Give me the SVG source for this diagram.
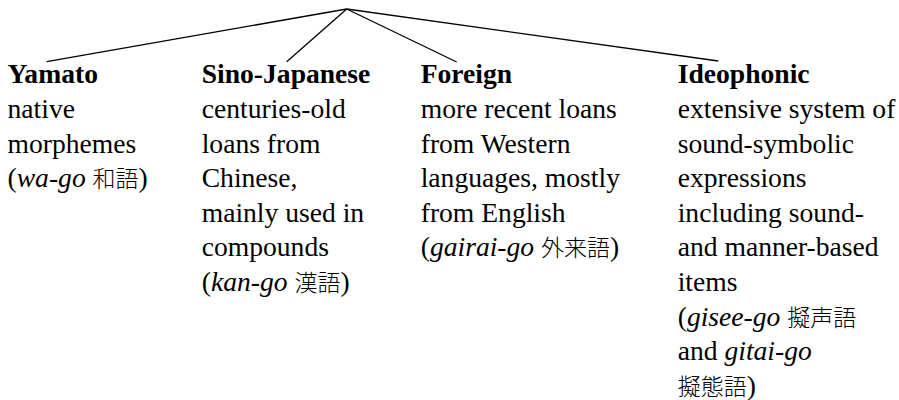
<svg xmlns="http://www.w3.org/2000/svg" width="899" height="400" viewBox="0 0 899 400">
<style>
.t{font-size:27.6px;fill:#000}
.h{font-weight:bold}
.i{font-style:italic}
.c{font-family:'Noto Sans CJK JP',sans-serif;font-size:23px;font-weight:300}
line{stroke:#000;stroke-width:1.3}
</style>
<rect width="899" height="400" fill="#fff"/>
<g id="connectors">
<line x1="346.7" y1="9" x2="46.7" y2="61.7"/>
<line x1="346.7" y1="9" x2="286.7" y2="61.7"/>
<line x1="346.7" y1="9" x2="456.7" y2="62"/>
<line x1="346.7" y1="9" x2="718.3" y2="61"/>
</g>
<g id="yamato" class="t" font-family="Liberation Serif, DejaVu Serif, serif">
<text x="7.5" y="83.3" class="h">Yamato</text>
<text x="7.5" y="117.9">native</text>
<text x="7.5" y="152.5">morphemes</text>
<text x="7.5" y="187.1">(<tspan class="i">wa-go</tspan> <tspan class="c">和語</tspan>)</text>
</g>
<g id="sino-japanese" class="t" font-family="Liberation Serif, DejaVu Serif, serif">
<text x="201.7" y="83.3" class="h">Sino-Japanese</text>
<text x="201.7" y="117.9">centuries-old</text>
<text x="201.7" y="152.5">loans from</text>
<text x="201.7" y="187.1">Chinese,</text>
<text x="201.7" y="221.7">mainly used in</text>
<text x="201.7" y="256.3">compounds</text>
<text x="201.7" y="290.9">(<tspan class="i">kan-go</tspan> <tspan class="c">漢語</tspan>)</text>
</g>
<g id="foreign" class="t" font-family="Liberation Serif, DejaVu Serif, serif">
<text x="420.7" y="83.3" class="h">Foreign</text>
<text x="420.7" y="117.9">more recent loans</text>
<text x="420.7" y="152.5">from Western</text>
<text x="420.7" y="187.1">languages, mostly</text>
<text x="420.7" y="221.7">from English</text>
<text x="420.7" y="256.3">(<tspan class="i">gairai-go</tspan> <tspan class="c">外来語</tspan>)</text>
</g>
<g id="ideophonic" class="t" font-family="Liberation Serif, DejaVu Serif, serif">
<text x="677.7" y="83.3" class="h">Ideophonic</text>
<text x="677.7" y="117.9">extensive system of</text>
<text x="677.7" y="152.5">sound-symbolic</text>
<text x="677.7" y="187.1">expressions</text>
<text x="677.7" y="221.7">including sound-</text>
<text x="677.7" y="256.3">and manner-based</text>
<text x="677.7" y="290.9">items</text>
<text x="677.7" y="325.5">(<tspan class="i">gisee-go</tspan> <tspan class="c">擬声語</tspan></text>
<text x="677.7" y="360.1">and <tspan class="i">gitai-go</tspan></text>
<text x="677.7" y="394.7"><tspan class="c">擬態語</tspan>)</text>
</g>
</svg>
